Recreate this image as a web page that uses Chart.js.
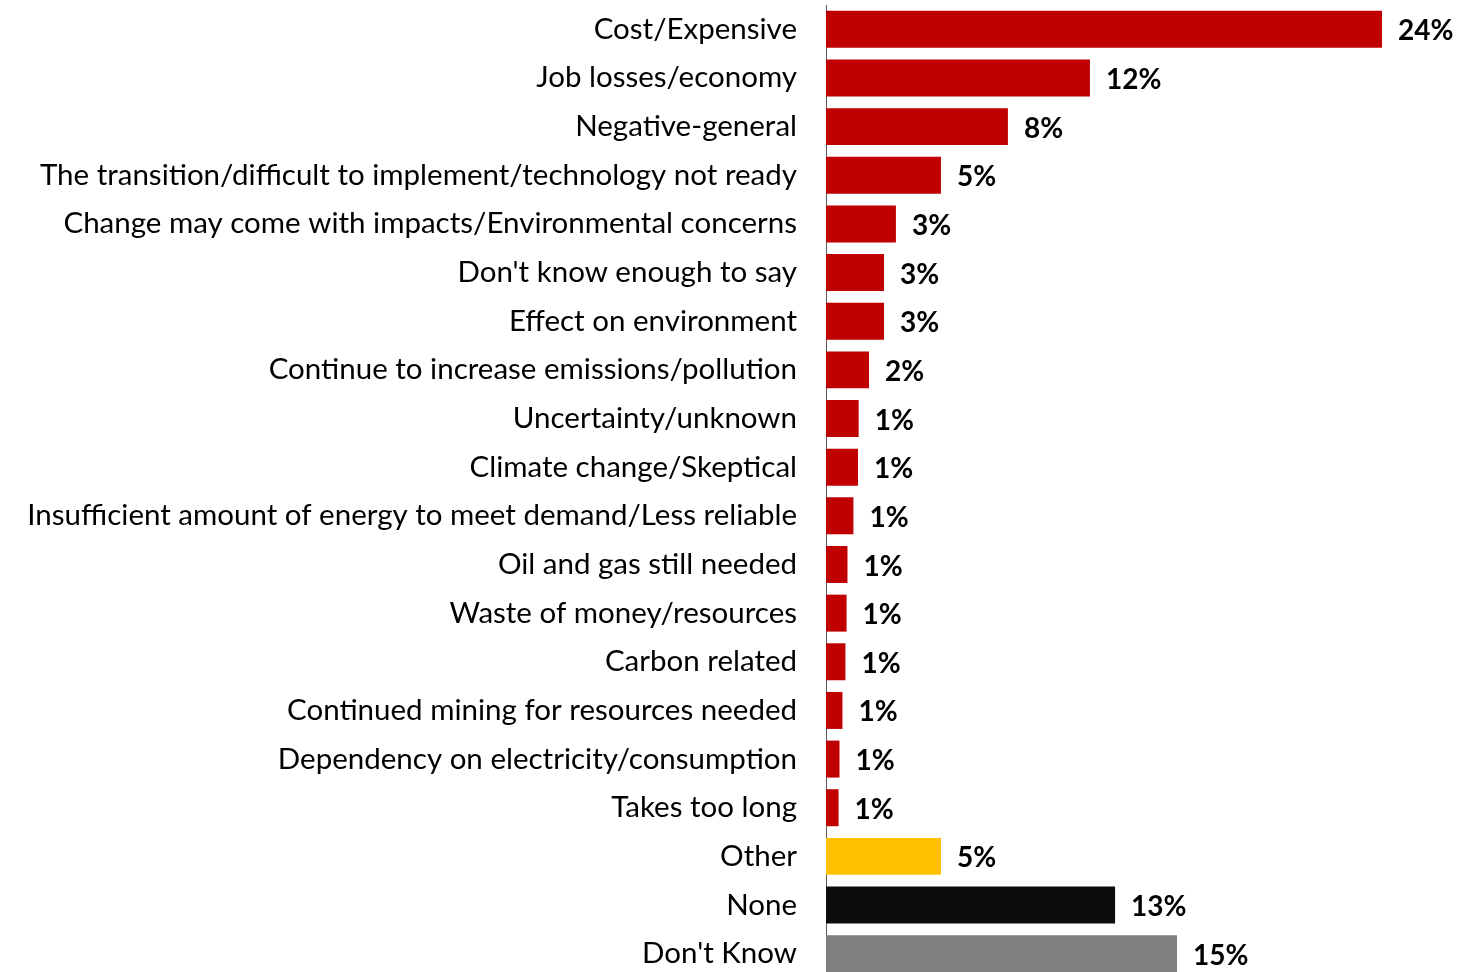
<!DOCTYPE html>
<html>
<head>
<meta charset="utf-8">
<script src="https://cdn.jsdelivr.net/npm/chart.js@4/dist/chart.umd.min.js"></script>
<style>
  html, body { margin: 0; padding: 0; background: #fff; overflow: hidden; }
  #wrap { width: 1458px; height: 980px; }
</style>
</head>
<body>
<div id="wrap"><canvas id="chart"></canvas></div>
<script>
const categories = [
  'Cost/Expensive',
  'Job losses/economy',
  'Negative-general',
  'The transition/difficult to implement/technology not ready',
  'Change may come with impacts/Environmental concerns',
  "Don't know enough to say",
  'Effect on environment',
  'Continue to increase emissions/pollution',
  'Uncertainty/unknown',
  'Climate change/Skeptical',
  'Insufficient amount of energy to meet demand/Less reliable',
  'Oil and gas still needed',
  'Waste of money/resources',
  'Carbon related',
  'Continued mining for resources needed',
  'Dependency on electricity/consumption',
  'Takes too long',
  'Other',
  'None',
  "Don't Know"
];
const values = [24.33, 11.55, 7.96, 5.03, 3.06, 2.54, 2.54, 1.88, 1.43, 1.40,
                1.20, 0.94, 0.90, 0.85, 0.72, 0.59, 0.55, 5.03, 12.65, 15.36];
const barColors = categories.map(c =>
  c === 'Other' ? '#FFC000' : c === 'None' ? '#0D0D0D' : c === "Don't Know" ? '#7F7F7F' : '#C00000');

// percent labels to the right of each bar
const valueLabels = {
  id: 'valueLabels',
  afterDatasetsDraw(chart) {
    const ctx = chart.ctx;
    const meta = chart.getDatasetMeta(0);
    ctx.save();
    ctx.font = 'bold 28px Lato';
    ctx.fillStyle = '#000';
    ctx.textAlign = 'left';
    ctx.textBaseline = 'middle';
    meta.data.forEach((bar, i) => {
      ctx.fillText(Math.round(values[i]) + '%', bar.x + 16, bar.y + 2);
    });
    ctx.restore();
  }
};

new Chart(document.getElementById('chart'), {
  type: 'bar',
  data: {
    labels: categories,
    datasets: [{ data: values, backgroundColor: barColors, barPercentage: 0.76, categoryPercentage: 1 }]
  },
  options: {
    indexAxis: 'y',
    responsive: true,
    maintainAspectRatio: false,
    animation: false,
    layout: { padding: { top: 5, bottom: 2, right: 15, left: 0 } },
    plugins: { legend: { display: false }, tooltip: { enabled: false } },
    scales: {
      x: { min: 0, max: 27, display: false },
      y: {
        grid: { drawOnChartArea: false, drawTicks: false },
        border: { display: true, color: '#595959', width: 1 },
        ticks: { color: '#000', padding: 29, font: { family: 'Lato', size: 29.5 } },
        afterFit(scale) {
          scale.width = 826;
          scale.paddingTop = 0;
          scale.paddingBottom = 0;
        }
      }
    }
  },
  plugins: [valueLabels]
});
</script>
</body>
</html>
